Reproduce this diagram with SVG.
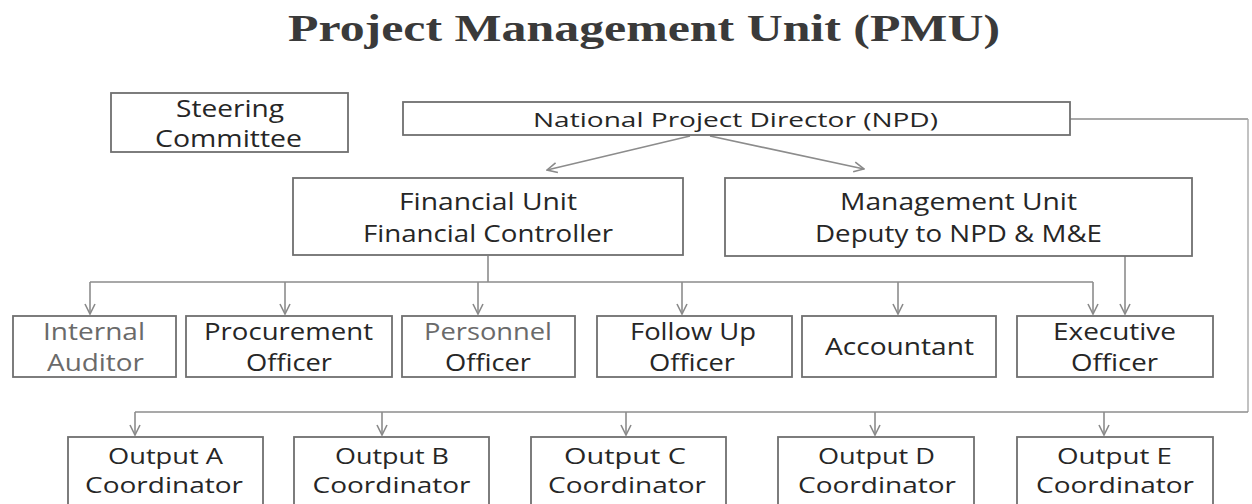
<svg xmlns="http://www.w3.org/2000/svg" width="1252" height="504" viewBox="0 0 1252 504">
  <defs>
    <marker id="arrow" viewBox="0 0 12 12" refX="11" refY="6" markerWidth="12" markerHeight="12" markerUnits="userSpaceOnUse" orient="auto">
      <path d="M1,1 L11,6 L1,11" fill="none" stroke="#8a8a8a" stroke-width="1.6"/>
    </marker>
    <style>
      .box { fill: #ffffff; stroke: #6f6f6f; stroke-width: 1.8; }
      .wire { fill: none; stroke: #8c8c8c; stroke-width: 1.6; }
      .faint { fill: none; stroke: #a8a8a8; stroke-width: 1.4; }
      .lbl { font-family: "Open Sans", "Noto Sans", sans-serif; font-size: 23px; fill: #262626; text-anchor: middle; }
      .lbl.sm { font-size: 20px; }
      .lbl.md { font-size: 22px; }
      .lbl.dim { fill: #6a6a6a; }
      .title { font-family: "Liberation Serif", "Times New Roman", serif; font-weight: bold; font-size: 38px; fill: #3a3a3a; text-anchor: middle; }
    </style>
  </defs>

  <rect width="1252" height="504" fill="#ffffff"/>

  <text class="title" x="644" y="41" textLength="712" lengthAdjust="spacingAndGlyphs">Project Management Unit (PMU)</text>

  <!-- connectors -->
  <g id="connectors">
    <!-- NPD to the two units -->
    <line class="wire" x1="690" y1="136" x2="547" y2="170" marker-end="url(#arrow)"/>
    <line class="wire" x1="710" y1="136" x2="864" y2="169" marker-end="url(#arrow)"/>
    <!-- NPD side line down to the coordinator bus -->
    <path class="wire" d="M1070,119 H1248"/>
    <path class="faint" d="M1248,119 V412"/>
    <path class="wire" d="M1248,412 H135"/>
    <!-- financial unit bus -->
    <path class="wire" d="M488,256 V282 M90,282 H1093"/>
    <line class="wire" x1="90" y1="282" x2="90" y2="314" marker-end="url(#arrow)"/>
    <line class="wire" x1="285" y1="282" x2="285" y2="314" marker-end="url(#arrow)"/>
    <line class="wire" x1="478" y1="282" x2="478" y2="314" marker-end="url(#arrow)"/>
    <line class="wire" x1="682" y1="282" x2="682" y2="314" marker-end="url(#arrow)"/>
    <line class="wire" x1="898" y1="282" x2="898" y2="314" marker-end="url(#arrow)"/>
    <line class="wire" x1="1093" y1="282" x2="1093" y2="314" marker-end="url(#arrow)"/>
    <!-- management unit to executive officer -->
    <line class="wire" x1="1125" y1="256" x2="1125" y2="314" marker-end="url(#arrow)"/>
    <!-- coordinator drops -->
    <line class="wire" x1="135" y1="412" x2="135" y2="435" marker-end="url(#arrow)"/>
    <line class="wire" x1="382" y1="412" x2="382" y2="435" marker-end="url(#arrow)"/>
    <line class="wire" x1="626" y1="412" x2="626" y2="435" marker-end="url(#arrow)"/>
    <line class="wire" x1="875" y1="412" x2="875" y2="435" marker-end="url(#arrow)"/>
    <line class="wire" x1="1104" y1="412" x2="1104" y2="435" marker-end="url(#arrow)"/>
  </g>

  <!-- top row -->
  <g id="steering-committee">
    <rect class="box" x="111" y="93" width="237" height="59"/>
    <text class="lbl" x="230" y="117" textLength="108" lengthAdjust="spacingAndGlyphs">Steering</text>
    <text class="lbl" x="228.5" y="147" textLength="147" lengthAdjust="spacingAndGlyphs">Committee</text>
  </g>
  <g id="npd">
    <rect class="box" x="403" y="102" width="667" height="33"/>
    <text class="lbl sm" x="735.5" y="127" textLength="405" lengthAdjust="spacingAndGlyphs">National Project Director (NPD)</text>
  </g>

  <!-- units -->
  <g id="financial-unit">
    <rect class="box" x="293" y="178" width="390" height="77"/>
    <text class="lbl" x="488" y="210" textLength="178" lengthAdjust="spacingAndGlyphs">Financial Unit</text>
    <text class="lbl" x="488" y="242" textLength="250" lengthAdjust="spacingAndGlyphs">Financial Controller</text>
  </g>
  <g id="management-unit">
    <rect class="box" x="725" y="178" width="467" height="78"/>
    <text class="lbl" x="958.5" y="210" textLength="237" lengthAdjust="spacingAndGlyphs">Management Unit</text>
    <text class="lbl" x="958.5" y="242" textLength="287" lengthAdjust="spacingAndGlyphs">Deputy to NPD &amp; M&amp;E</text>
  </g>

  <!-- officers -->
  <g id="internal-auditor">
    <rect class="box" x="13" y="316" width="163" height="61"/>
    <text class="lbl dim" x="94" y="340" textLength="102" lengthAdjust="spacingAndGlyphs">Internal</text>
    <text class="lbl dim" x="95.5" y="371" textLength="97" lengthAdjust="spacingAndGlyphs">Auditor</text>
  </g>
  <g id="procurement-officer">
    <rect class="box" x="186" y="316" width="206" height="61"/>
    <text class="lbl" x="288.5" y="340" textLength="169" lengthAdjust="spacingAndGlyphs">Procurement</text>
    <text class="lbl" x="289" y="371" textLength="86" lengthAdjust="spacingAndGlyphs">Officer</text>
  </g>
  <g id="personnel-officer">
    <rect class="box" x="402" y="316" width="173" height="61"/>
    <text class="lbl dim" x="488" y="340" textLength="128" lengthAdjust="spacingAndGlyphs">Personnel</text>
    <text class="lbl" x="488" y="371" textLength="86" lengthAdjust="spacingAndGlyphs">Officer</text>
  </g>
  <g id="follow-up-officer">
    <rect class="box" x="597" y="316" width="195" height="61"/>
    <text class="lbl" x="693" y="340" textLength="126" lengthAdjust="spacingAndGlyphs">Follow Up</text>
    <text class="lbl" x="692" y="371" textLength="86" lengthAdjust="spacingAndGlyphs">Officer</text>
  </g>
  <g id="accountant">
    <rect class="box" x="802" y="316" width="194" height="61"/>
    <text class="lbl" x="899.5" y="355" textLength="149" lengthAdjust="spacingAndGlyphs">Accountant</text>
  </g>
  <g id="executive-officer">
    <rect class="box" x="1017" y="316" width="196" height="61"/>
    <text class="lbl" x="1114.5" y="340" textLength="123" lengthAdjust="spacingAndGlyphs">Executive</text>
    <text class="lbl" x="1114.5" y="371" textLength="87" lengthAdjust="spacingAndGlyphs">Officer</text>
  </g>

  <!-- output coordinators -->
  <g id="output-a">
    <rect class="box" x="68" y="437" width="195" height="80"/>
    <text class="lbl md" x="165.5" y="464" textLength="115" lengthAdjust="spacingAndGlyphs">Output A</text>
    <text class="lbl md" x="164" y="493" textLength="158" lengthAdjust="spacingAndGlyphs">Coordinator</text>
  </g>
  <g id="output-b">
    <rect class="box" x="294" y="437" width="195" height="80"/>
    <text class="lbl md" x="392" y="464" textLength="114" lengthAdjust="spacingAndGlyphs">Output B</text>
    <text class="lbl md" x="391.5" y="493" textLength="158" lengthAdjust="spacingAndGlyphs">Coordinator</text>
  </g>
  <g id="output-c">
    <rect class="box" x="531" y="437" width="195" height="80"/>
    <text class="lbl md" x="625" y="464" textLength="122" lengthAdjust="spacingAndGlyphs">Output C</text>
    <text class="lbl md" x="627" y="493" textLength="158" lengthAdjust="spacingAndGlyphs">Coordinator</text>
  </g>
  <g id="output-d">
    <rect class="box" x="778" y="437" width="196" height="80"/>
    <text class="lbl md" x="876.5" y="464" textLength="117" lengthAdjust="spacingAndGlyphs">Output D</text>
    <text class="lbl md" x="877" y="493" textLength="158" lengthAdjust="spacingAndGlyphs">Coordinator</text>
  </g>
  <g id="output-e">
    <rect class="box" x="1017" y="437" width="196" height="80"/>
    <text class="lbl md" x="1114.5" y="464" textLength="115" lengthAdjust="spacingAndGlyphs">Output E</text>
    <text class="lbl md" x="1115" y="493" textLength="158" lengthAdjust="spacingAndGlyphs">Coordinator</text>
  </g>
</svg>
